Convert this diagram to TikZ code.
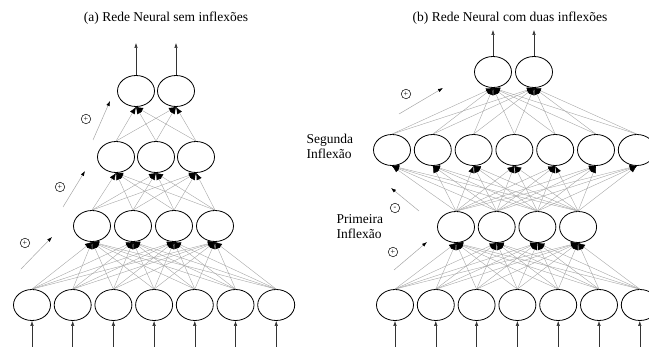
\documentclass[tikz,border=0pt]{standalone}
\usepackage{fontspec}
\setmainfont{Liberation Serif}
\usepackage{tikz}
\usetikzlibrary{shapes.geometric, positioning, arrows.meta}
\newcommand{\linkcolor}{gray!70}
\tikzstyle{neuron} = [ellipse, draw=black, line width=0.8pt,
minimum width=37pt, 
minimum height=31pt]
\tikzstyle{conn} = [draw=\linkcolor, line width=0.4pt,
-{Latex[color=black, length=7pt, width=5.5pt]}]
\tikzstyle{io} = [draw=black!80, line width=0.5pt,
-{Latex[length=5pt, width=3.5pt]}]
\tikzstyle{sign} = [circle, draw=black, line width=0.5pt,
inner sep=0pt, minimum size=9.5pt, font=\fontsize{8}{8}\selectfont]
\tikzstyle{trend} = [draw=\linkcolor, line width=0.5pt,
-{Latex[color=black, length=5pt, width=3.5pt]}]
\tikzstyle{caption} = [font=\fontsize{13.5}{15}\selectfont]

\begin{document}
\begin{tikzpicture}[x=1pt, y=-1pt]
\useasboundingbox (0,0) rectangle (649,347);

%-----------titles
\node (titleA) [caption] at (166,18) {(a) Rede Neural sem inflexões};
\node (titleB) [caption] at (510,18) {(b) Rede Neural com duas inflexões};

%-----------(a) layers
\foreach \i in {1,...,7}
  \node (inA\i) [neuron] at ({32+40.7*(\i-1)},305) {};
\foreach \i in {1,...,4}
  \node (hA\i) [neuron] at ({92+41*(\i-1)},226) {};
\foreach \i in {1,...,3}
  \node (gA\i) [neuron] at ({116+40*(\i-1)},157) {};
\foreach \i in {1,2}
  \node (outA\i) [neuron] at ({136+40*(\i-1)},91) {};

%-----------(a) links
\foreach \i in {1,...,7}
  \foreach \j in {1,...,4}
    \draw [conn] (inA\i.north) -- (hA\j.south);
\foreach \i in {1,...,4}
  \foreach \j in {1,...,3}
    \draw [conn] (hA\i.north) -- (gA\j.south);
\foreach \i in {1,...,3}
  \foreach \j in {1,2}
    \draw [conn] (gA\i.north) -- (outA\j.south);

%-----------(a) inputs and outputs
\foreach \i in {1,...,7} {
  \coordinate (srcA\i) at ({32+40.7*(\i-1)},347);
  \draw [io] (srcA\i) -- (inA\i.south);
}
\foreach \i in {1,2} {
  \coordinate (dstA\i) at ({136+40*(\i-1)},43);
  \draw [io] (outA\i.north) -- (dstA\i);
}

%-----------(a) signs
\node (sA1) [sign] at (25,243) {+};
\node (sA2) [sign] at (60,187) {+};
\node (sA3) [sign] at (86,119) {+};
\coordinate (tA1s) at (21,269);  \coordinate (tA1e) at (52,237);
\coordinate (tA2s) at (63,207);  \coordinate (tA2e) at (85,171);
\coordinate (tA3s) at (93,140);  \coordinate (tA3e) at (110,101);
\draw [trend] (tA1s) -- (tA1e);
\draw [trend] (tA2s) -- (tA2e);
\draw [trend] (tA3s) -- (tA3e);

%-----------(b) layers
\foreach \i in {1,...,7}
  \node (inB\i) [neuron] at ({395+40.8*(\i-1)},305) {};
\foreach \i in {1,...,4}
  \node (hB\i) [neuron] at ({456+40.7*(\i-1)},227) {};
\foreach \i in {1,...,7}
  \node (gB\i) [neuron] at ({392+40.8*(\i-1)},150) {};
\foreach \i in {1,2}
  \node (outB\i) [neuron] at ({493+41*(\i-1)},72) {};

%-----------(b) links
\foreach \i in {1,...,7}
  \foreach \j in {1,...,4}
    \draw [conn] (inB\i.north) -- (hB\j.south);
\foreach \i in {1,...,4}
  \foreach \j in {1,...,7}
    \draw [conn] (hB\i.north) -- (gB\j.south);
\foreach \i in {1,...,7}
  \foreach \j in {1,2}
    \draw [conn] (gB\i.north) -- (outB\j.south);

%-----------(b) inputs and outputs
\foreach \i in {1,...,7} {
  \coordinate (srcB\i) at ({395+40.8*(\i-1)},347);
  \draw [io] (srcB\i) -- (inB\i.south);
}
\foreach \i in {1,2} {
  \coordinate (dstB\i) at ({493+41*(\i-1)},30);
  \draw [io] (outB\i.north) -- (dstB\i);
}

%-----------(b) labels
\node (second) [caption, align=left, anchor=west] at (303,146)
  {Segunda\\Inflexão};
\node (first) [caption, align=left, anchor=west] at (333,227)
  {Primeira\\Inflexão};

%-----------(b) signs
\node (sB1) [sign] at (393,252) {+};
\node (sB2) [sign] at (395,208) {-};
\node (sB3) [sign] at (406,94) {+};
\coordinate (tB1s) at (394,270); \coordinate (tB1e) at (427,242);
\coordinate (tB2s) at (419,211); \coordinate (tB2e) at (391,188);
\coordinate (tB3s) at (399,114); \coordinate (tB3e) at (443,88);
\draw [trend] (tB1s) -- (tB1e);
\draw [trend] (tB2s) -- (tB2e);
\draw [trend] (tB3s) -- (tB3e);

\end{tikzpicture}
\end{document}
